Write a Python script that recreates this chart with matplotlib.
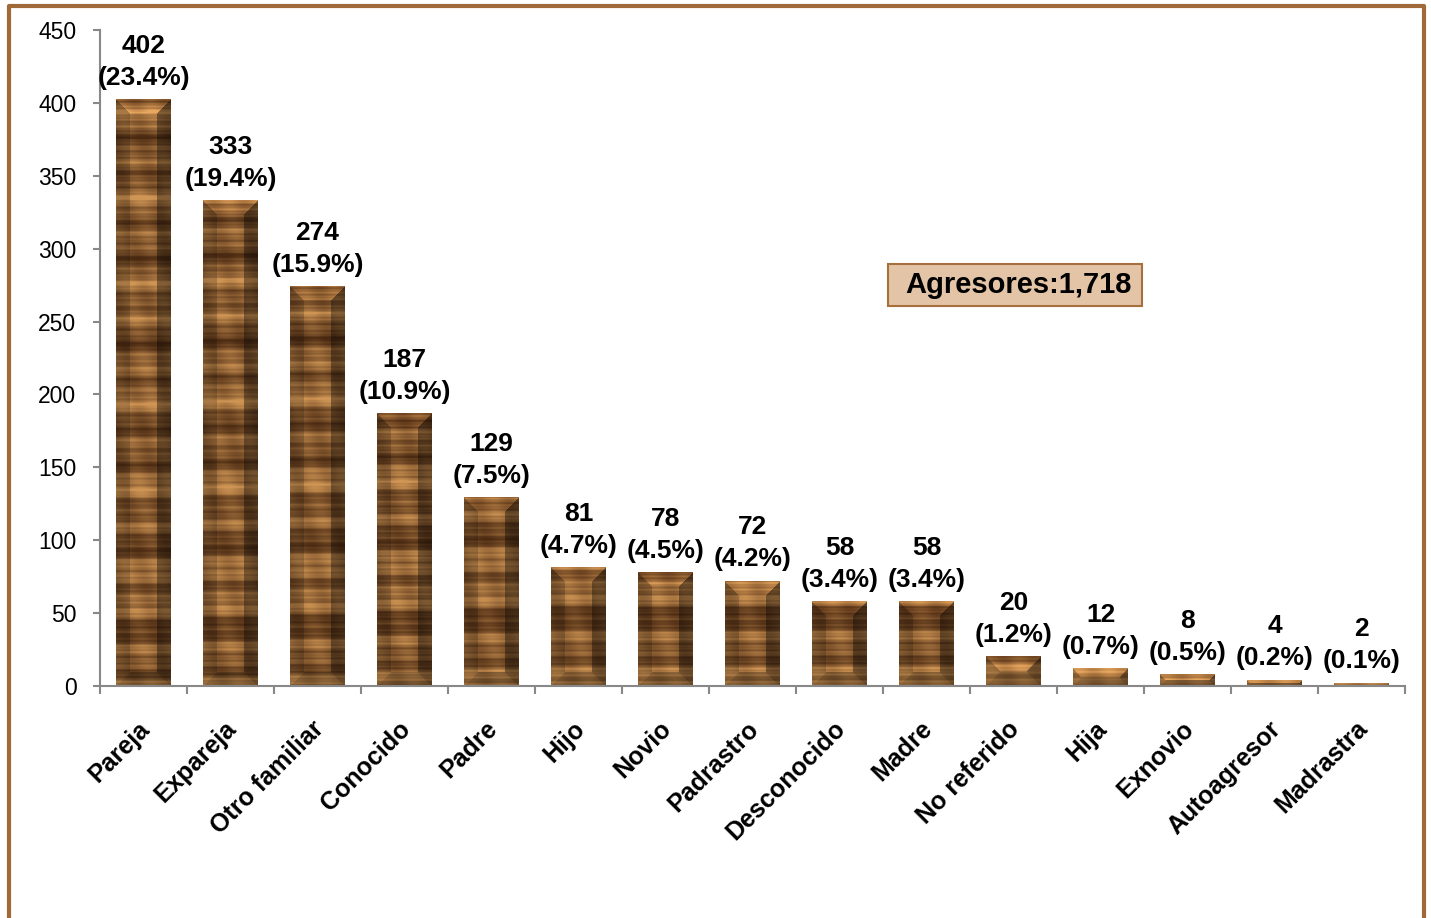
import numpy as np
import matplotlib.pyplot as plt
from matplotlib.lines import Line2D
from matplotlib.patches import Rectangle

plt.rcParams['font.family'] = ['Liberation Sans', 'DejaVu Sans']

categorias = ["Pareja", "Expareja", "Otro familiar", "Conocido", "Padre", "Hijo",
              "Novio", "Padrastro", "Desconocido", "Madre", "No referido", "Hija",
              "Exnovio", "Autoagresor", "Madrastra"]
valores = [402, 333, 274, 187, 129, 81, 78, 72, 58, 58, 20, 12, 8, 4, 2]
porcentajes = ["23.4%", "19.4%", "15.9%", "10.9%", "7.5%", "4.7%", "4.5%", "4.2%",
               "3.4%", "3.4%", "1.2%", "0.7%", "0.5%", "0.2%", "0.1%"]
total_texto = "Agresores:1,718"

fig = plt.figure(figsize=(14.31, 9.18), dpi=100)
ax = fig.add_axes([100/1431, 1-686/918, 1305/1431, 656/918])

x = np.arange(len(categorias))
bars = ax.bar(x, valores, width=0.63, color="none", edgecolor="none", zorder=2)

ymax = 450
px_per_unit = 656 / ymax
dark = np.array([68, 38, 16]) / 255
light = np.array([192, 138, 78]) / 255


def wood_texture(h_units, pw=55, bevel=14):
    ph = max(int(round(h_units * px_per_unit)), 2)
    rows = np.arange(ph)[:, None]
    cols = np.arange(pw)[None, :]
    yabs = (ph - rows - 0.5) + 0.04 * h_units  # pixel height from base
    t = (0.55 + 0.20*np.sin(2*np.pi*yabs/41.0) + 0.14*np.sin(2*np.pi*yabs/17.3 + 1.0)
         + 0.10*np.sin(2*np.pi*yabs/7.1 + 2.0) + 0.12*np.sin(2*np.pi*yabs/97.0 + 0.5)
         + 0.06*np.sin(2*np.pi*yabs/3.3 + 0.7)
         + 0.08*np.sin(2*np.pi*cols/31.0 + yabs/23.0))
    t = np.clip(t, 0, 1) ** 1.3
    img = dark + (light - dark) * t[..., None]
    b = min(bevel, ph / 2)
    dl = np.broadcast_to(cols + 0.5, (ph, pw))
    dr = np.broadcast_to(pw - cols - 0.5, (ph, pw))
    dt = np.broadcast_to(rows + 0.5, (ph, pw))
    db = np.broadcast_to(ph - rows - 0.5, (ph, pw))
    d = np.stack([dt, dl, dr, db])
    face = np.argmin(d, axis=0)
    m = np.min(d, axis=0)
    fac = np.array([1.22, 0.88, 0.68, 0.78])[face]
    fac = np.where(m >= b, 1.08, fac)
    img = np.clip(img * fac[..., None], 0, 1)
    return img


for rect in bars.patches:
    h = rect.get_height()
    x0 = rect.get_x()
    ax.imshow(wood_texture(h), extent=(x0, x0 + rect.get_width(), 0, h),
              aspect="auto", interpolation="bilinear", zorder=2)

for xi, v, p in zip(x, valores, porcentajes):
    ax.annotate(f"{v}\n({p})", (xi, v), xytext=(0, 7), textcoords="offset points",
                ha="center", va="bottom", fontsize=19, fontweight="bold",
                linespacing=1.42, zorder=3)

ax.set_xlim(-0.5, len(categorias) - 0.5)
ax.set_ylim(0, ymax)
ax.set_yticks(np.arange(0, 451, 50))
ax.tick_params(axis="y", labelsize=16.5, length=5, width=1.5, color="#888888", pad=12)

ax.set_xticks(np.arange(-0.5, len(categorias), 1.0))
ax.set_xticklabels([])
ax.tick_params(axis="x", which="major", length=6, width=1.5, color="#888888")
ax.set_xticks(x - 0.07, minor=True)
ax.set_xticklabels(categorias, minor=True, rotation=45, ha="right",
                   rotation_mode="anchor", fontsize=18, fontweight="bold")
ax.tick_params(axis="x", which="minor", length=0, pad=22)

for s in ["top", "right"]:
    ax.spines[s].set_visible(False)
for s in ["left", "bottom"]:
    ax.spines[s].set_color("#888888")
    ax.spines[s].set_linewidth(1.5)

ax.add_patch(Rectangle((0.6038, 0.5793), 0.1946, 0.064, transform=ax.transAxes,
                       facecolor="#E4C4A6", edgecolor="#A5703D", linewidth=1.5,
                       zorder=4))
ax.text(0.704, 0.611, total_texto, transform=ax.transAxes, ha="center", va="center",
        fontsize=21, fontweight="bold", zorder=5)

frame_color = "#A06A38"
fl, fr, ft = 9/1431, 1424/1431, 1 - 6/918
fig.add_artist(Line2D([fl, fl, fr, fr], [-0.1, ft, ft, -0.1], color=frame_color,
                      linewidth=3, transform=fig.transFigure))

fig.savefig("out.png", dpi=100)
